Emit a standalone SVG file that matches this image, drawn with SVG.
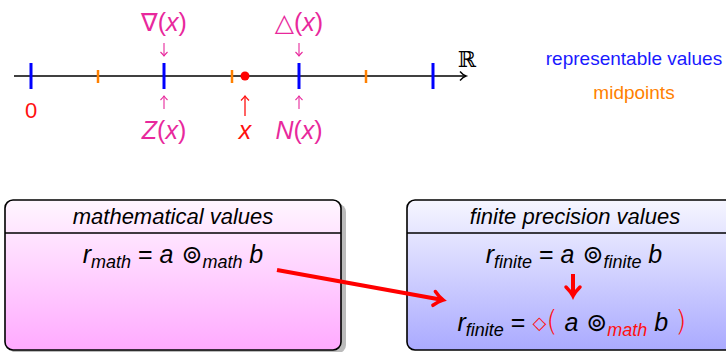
<svg xmlns="http://www.w3.org/2000/svg" width="726" height="352" viewBox="0 0 726 352">
<defs>
<linearGradient id="gm" x1="0" y1="0" x2="0" y2="1"><stop offset="0" stop-color="#fff6ff"/><stop offset="1" stop-color="#ffaaff"/></linearGradient>
<linearGradient id="gf" x1="0" y1="0" x2="0" y2="1"><stop offset="0" stop-color="#f6f6ff"/><stop offset="1" stop-color="#aaaaff"/></linearGradient>
<marker id="ax" markerWidth="12" markerHeight="12" refX="8" refY="6" orient="auto" markerUnits="userSpaceOnUse"><path d="M2,1.5 Q5,5 8,6 Q5,7 2,10.5" fill="none" stroke="#000" stroke-width="1.4"/></marker>
<marker id="ra" markerWidth="20" markerHeight="20" refX="12" refY="10" orient="auto" markerUnits="userSpaceOnUse"><path d="M3,3 Q8,8 12,10 Q8,12 3,17" fill="none" stroke="#ff0000" stroke-width="3.5" stroke-linecap="round"/></marker>
<marker id="pa" markerWidth="10" markerHeight="10" refX="6" refY="5" orient="auto" markerUnits="userSpaceOnUse"><path d="M2,1.5 Q4.5,4 6,5 Q4.5,6 2,8.5" fill="none" stroke="#e8289c" stroke-width="1.1"/></marker>
<marker id="rs" markerWidth="10" markerHeight="10" refX="6" refY="5" orient="auto" markerUnits="userSpaceOnUse"><path d="M1.5,1 Q4.5,4 6,5 Q4.5,6 1.5,9" fill="none" stroke="#ff1010" stroke-width="1.3"/></marker>
</defs>
<style>
.s{font-family:"Liberation Sans","DejaVu Sans",sans-serif}
.dj{font-family:"DejaVu Sans",sans-serif}
.it{font-style:italic}
.pk{fill:#e8289c}
.rd{fill:#ff1010}
.bt{stroke:#0000ff;stroke-width:3}
.ot{stroke:#ff8000;stroke-width:2.5}
.pl{stroke:#e8289c;stroke-width:1.1;marker-end:url(#pa)}
.box{stroke:#000;stroke-width:1.6}
.sh{fill:#bbbbbb}
</style>
<g id="axis">
<line x1="14" y1="76" x2="466" y2="76" stroke="#000" stroke-width="1.5" marker-end="url(#ax)"/>
<line class="bt" x1="31" y1="63" x2="31" y2="89"/>
<line class="bt" x1="164" y1="63" x2="164" y2="89"/>
<line class="bt" x1="299" y1="63" x2="299" y2="89"/>
<line class="bt" x1="433" y1="63" x2="433" y2="89"/>
<line class="ot" x1="98" y1="70" x2="98" y2="83"/>
<line class="ot" x1="232" y1="70" x2="232" y2="83"/>
<line class="ot" x1="366" y1="70" x2="366" y2="83"/>
<circle cx="245" cy="76" r="4.5" fill="#ff0000"/>
<text x="467" y="67" font-family="DejaVu Serif,serif" font-size="22" text-anchor="middle">ℝ</text>
</g>
<g id="labels" class="s">
<text x="31" y="118" class="rd" font-size="22" text-anchor="middle">0</text>
<text x="164" y="31" class="pk" font-size="25" text-anchor="middle">∇(<tspan class="it">x</tspan>)</text>
<line class="pl" x1="164" y1="43" x2="164" y2="56"/>
<line class="pl" x1="164" y1="109" x2="164" y2="96"/>
<text x="164" y="139" class="pk" font-size="25" text-anchor="middle"><tspan class="it">Z</tspan>(<tspan class="it">x</tspan>)</text>
<text x="299" y="31" class="pk" font-size="25" text-anchor="middle">△(<tspan class="it">x</tspan>)</text>
<line class="pl" x1="299" y1="43" x2="299" y2="56"/>
<line class="pl" x1="299" y1="109" x2="299" y2="96"/>
<text x="299" y="139" class="pk" font-size="25" text-anchor="middle"><tspan class="it">N</tspan>(<tspan class="it">x</tspan>)</text>
<line x1="245" y1="116" x2="245" y2="96" stroke="#ff1010" stroke-width="1.3" marker-end="url(#rs)"/>
<text x="245" y="139" class="rd it" font-size="25" text-anchor="middle">x</text>
<text x="634" y="65" fill="#1a1aff" font-size="19" text-anchor="middle">representable values</text>
<text x="634" y="99" fill="#ff8000" font-size="19" text-anchor="middle">midpoints</text>
</g>
<g id="math-box" class="s">
<rect class="sh" x="9" y="204" width="337" height="149" rx="8"/>
<rect class="box" x="5" y="200" width="336" height="150" rx="8" fill="url(#gm)"/>
<line class="box" x1="5" y1="233" x2="341" y2="233"/>
<text x="173" y="224" class="it" font-size="22" text-anchor="middle">mathematical values</text>
<text x="173" y="263" font-size="25" text-anchor="middle"><tspan class="it">r</tspan><tspan class="it" font-size="18" dy="5">math</tspan><tspan dy="-5"> = </tspan><tspan class="it">a</tspan><tspan class="dj"> ⊚</tspan><tspan class="it" font-size="18" dy="5">math</tspan><tspan class="it" dy="-5"> b</tspan></text>
</g>
<g id="finite-box" class="s">
<rect class="box" x="407" y="200" width="330" height="150" rx="8" fill="url(#gf)"/>
<line class="box" x1="407" y1="233" x2="726" y2="233"/>
<text x="575" y="224" class="it" font-size="22" text-anchor="middle">finite precision values</text>
<text x="574" y="263" font-size="25" text-anchor="middle"><tspan class="it">r</tspan><tspan class="it" font-size="18" dy="5">finite</tspan><tspan dy="-5"> = </tspan><tspan class="it">a</tspan><tspan class="dj"> ⊚</tspan><tspan class="it" font-size="18" dy="5">finite</tspan><tspan class="it" dy="-5"> b</tspan></text>
<text x="572" y="331" font-size="25" text-anchor="middle"><tspan class="it">r</tspan><tspan class="it" font-size="18" dy="5">finite</tspan><tspan dy="-5"> = </tspan><tspan class="rd" font-size="18" dy="-2">◇</tspan><tspan class="rd dj" font-size="29" font-weight="200" dy="2">(</tspan><tspan class="it"> a</tspan><tspan class="dj"> ⊚</tspan><tspan class="it rd" font-size="18" dy="5">math</tspan><tspan class="it" dy="-5"> b </tspan><tspan class="rd dj" font-size="29" font-weight="200">)</tspan></text>
</g>
<g id="connectors">
<line x1="277" y1="270" x2="443" y2="300" stroke="#ff0000" stroke-width="4" marker-end="url(#ra)"/>
<line x1="573" y1="274" x2="573" y2="296" stroke="#ff0000" stroke-width="4" marker-end="url(#ra)"/>
</g>
</svg>
